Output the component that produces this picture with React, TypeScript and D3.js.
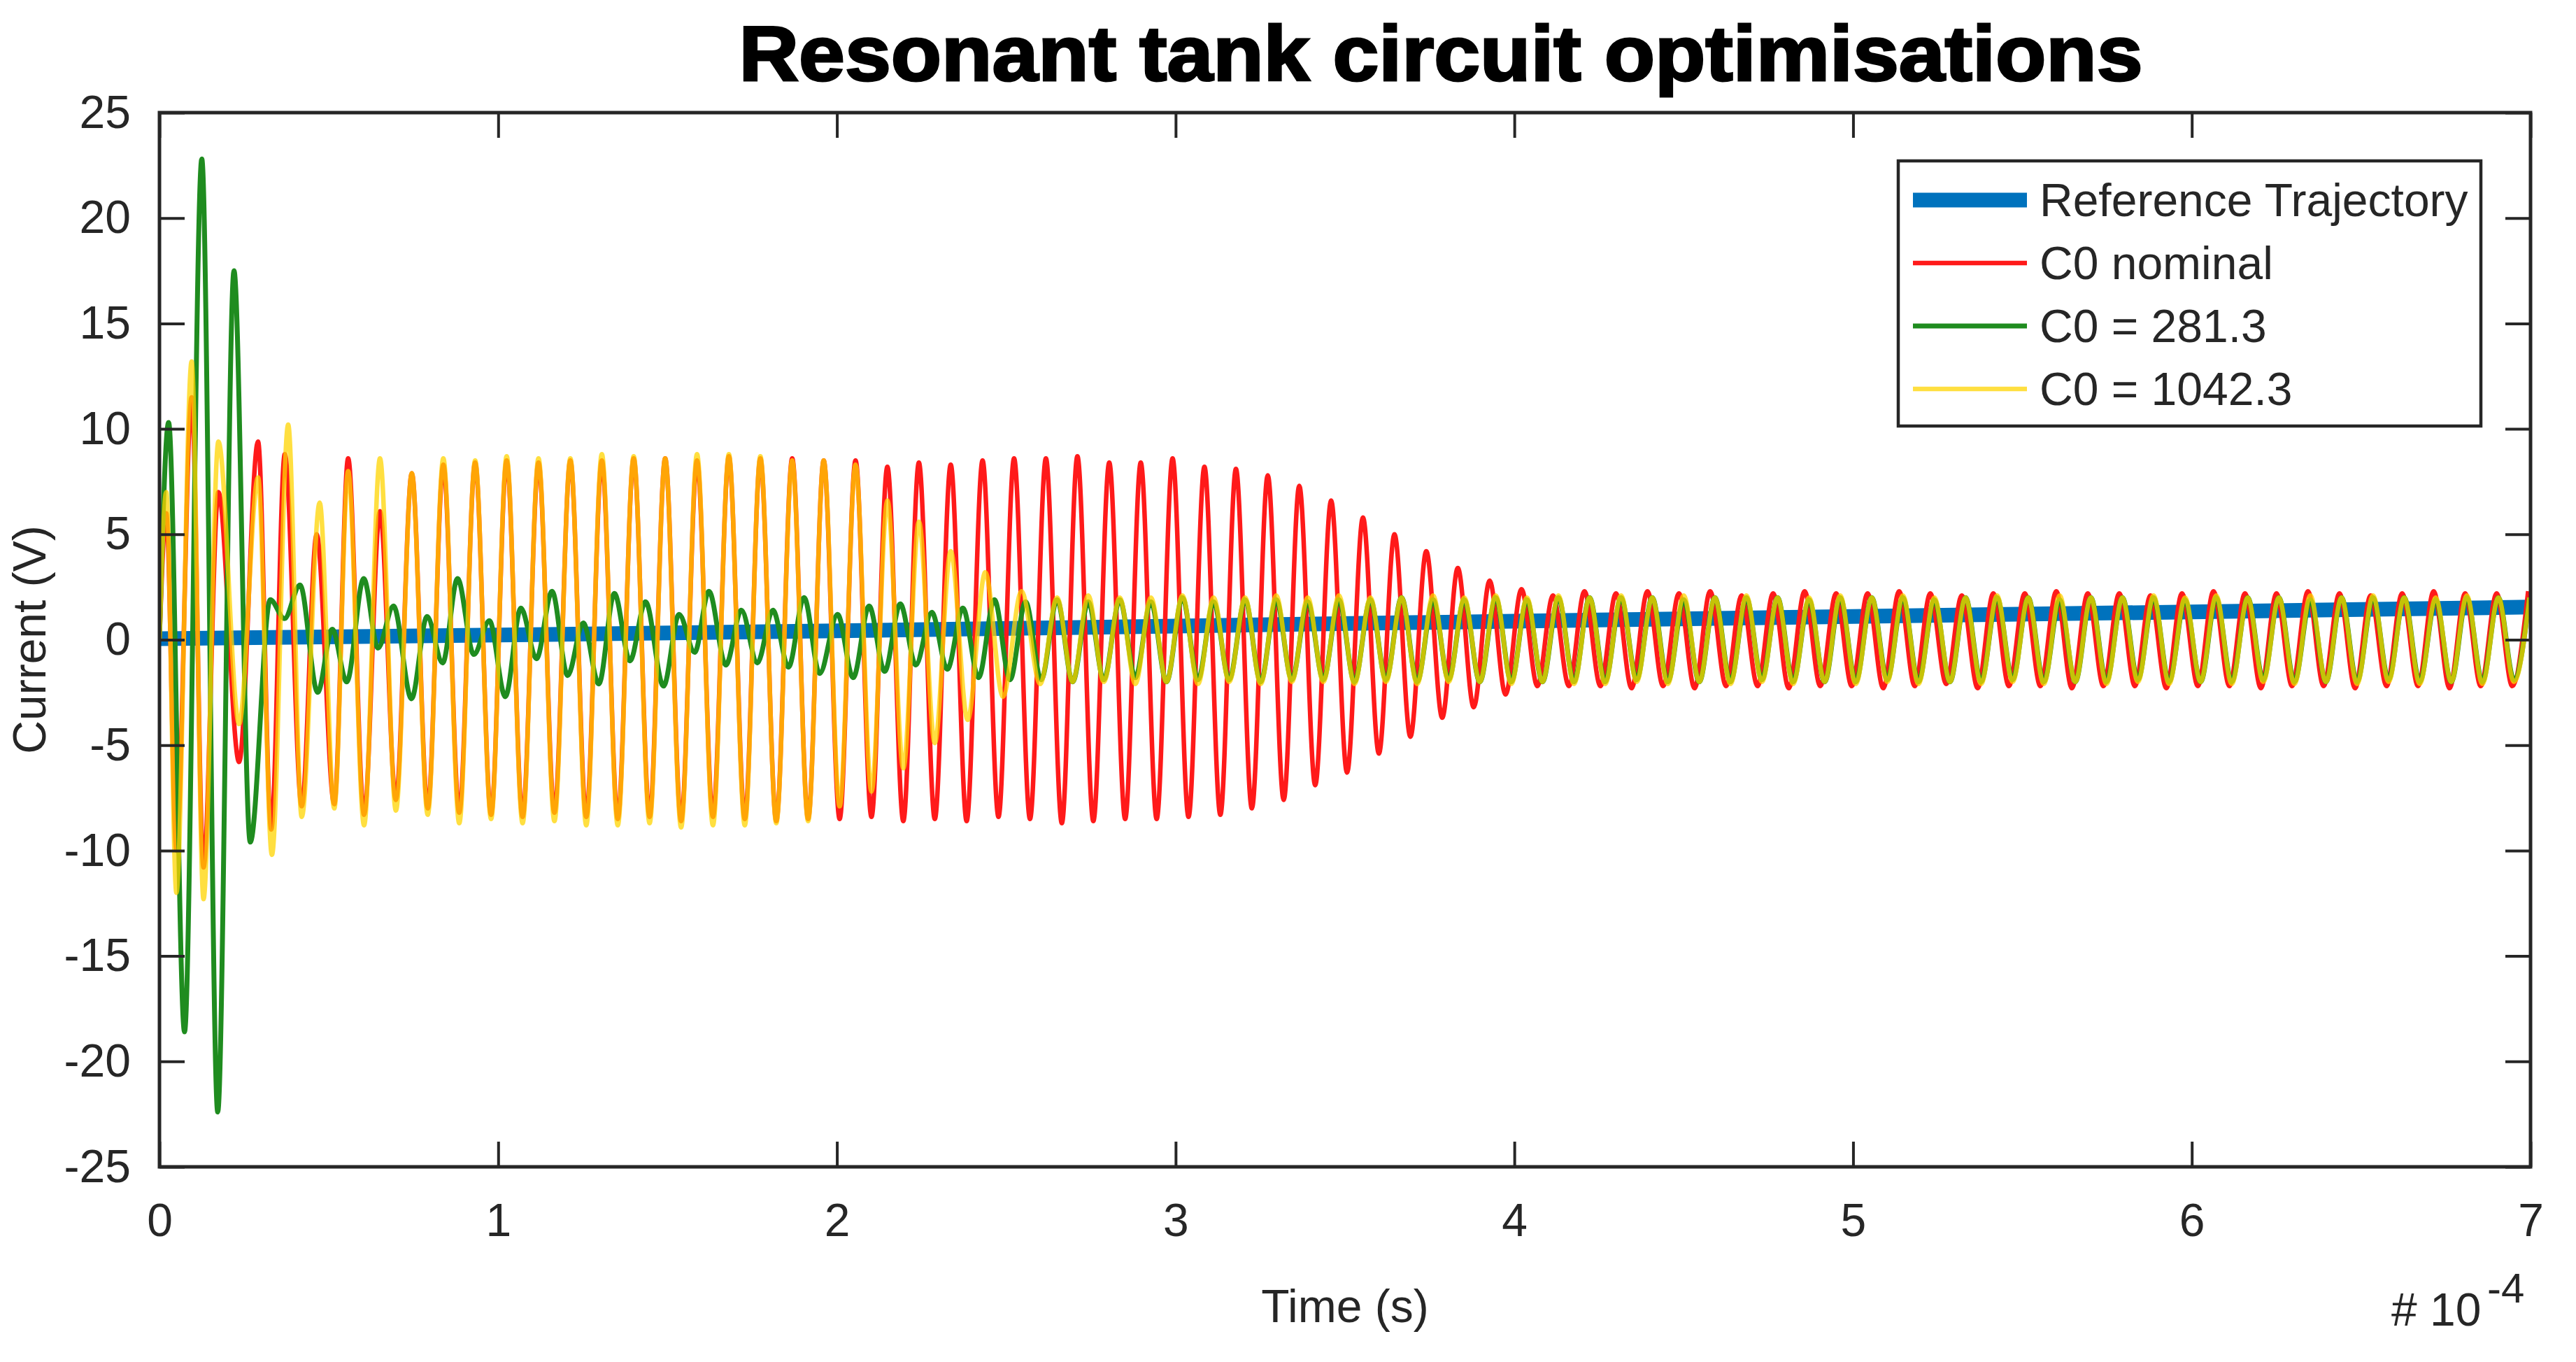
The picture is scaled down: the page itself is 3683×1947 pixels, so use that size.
import React, { useEffect, useRef } from 'react';
import * as d3 from 'd3';

type Pt = [number, number];

// time axis is in units of 1e-4 s
const timeTicks = [0, 1, 2, 3, 4, 5, 6, 7];
const currentTicks = [-25, -20, -15, -10, -5, 0, 5, 10, 15, 20, 25];

const legendLabels = ['Reference Trajectory', 'C0 nominal', 'C0 = 281.3', 'C0 = 1042.3'];

const referenceTrajectory: Pt[] = [
    [0, 0.05], [1, 0.22], [2, 0.42], [3, 0.65], [4, 0.88], [5, 1.1], [6, 1.32], [7, 1.55],
];

// swing extrema (time, current)
const c0Nominal: Pt[] = [
    [0, 0], [0.02, 6.0], [0.05, -10.0], [0.095, 11.5], [0.13, -10.8], [0.174, 7.0], [0.235, -5.8], [0.291, 9.4],
    [0.33, -9.0], [0.37, 8.8], [0.42, -7.9], [0.464, 5.0], [0.516, -7.8], [0.557, 8.6], [0.604, -8.3], [0.651, 6.1],
    [0.698, -7.6], [0.745, 7.9], [0.792, -8.0], [0.838, 8.3], [0.885, -8.2], [0.932, 8.4], [0.979, -8.3], [1.025, 8.5],
    [1.072, -8.4], [1.119, 8.4], [1.166, -8.2], [1.213, 8.5], [1.26, -8.4], [1.306, 8.5], [1.353, -8.5], [1.4, 8.6],
    [1.447, -8.4], [1.493, 8.6], [1.54, -8.6], [1.587, 8.5], [1.634, -8.4], [1.681, 8.7], [1.728, -8.5], [1.774, 8.6],
    [1.821, -8.6], [1.868, 8.6], [1.915, -8.5], [1.961, 8.5], [2.008, -8.5], [2.055, 8.5], [2.102, -8.4], [2.149, 8.2],
    [2.196, -8.6], [2.242, 8.4], [2.289, -8.5], [2.336, 8.3], [2.383, -8.6], [2.43, 8.5], [2.477, -8.4], [2.523, 8.6],
    [2.57, -8.5], [2.617, 8.6], [2.664, -8.7], [2.71, 8.7], [2.757, -8.6], [2.804, 8.4], [2.851, -8.5], [2.897, 8.4],
    [2.944, -8.5], [2.991, 8.6], [3.038, -8.4], [3.085, 8.2], [3.132, -8.3], [3.178, 8.1], [3.225, -8.0], [3.272, 7.8],
    [3.319, -7.6], [3.365, 7.3], [3.412, -6.9], [3.459, 6.6], [3.506, -6.3], [3.553, 5.8], [3.6, -5.4], [3.646, 5.0],
    [3.693, -4.6], [3.74, 4.2], [3.787, -3.7], [3.833, 3.4], [3.88, -3.2], [3.927, 2.8], [3.974, -2.6], [4.021, 2.4],
    [4.068, -2.2], [4.114, 2.1], [4.161, -2.2], [4.207, 2.3], [4.254, -2.2], [4.3, 2.2], [4.346, -2.3], [4.393, 2.3],
    [4.439, -2.2], [4.486, 2.2], [4.532, -2.3], [4.578, 2.3], [4.625, -2.2], [4.671, 2.1], [4.718, -2.2], [4.764, 2.2],
    [4.81, -2.3], [4.857, 2.3], [4.903, -2.2], [4.95, 2.2], [4.996, -2.2], [5.043, 2.2], [5.089, -2.3], [5.136, 2.3],
    [5.182, -2.2], [5.228, 2.2], [5.275, -2.1], [5.321, 2.1], [5.368, -2.3], [5.414, 2.2], [5.46, -2.2], [5.507, 2.2],
    [5.553, -2.2], [5.6, 2.3], [5.646, -2.3], [5.693, 2.2], [5.739, -2.2], [5.786, 2.2], [5.832, -2.2], [5.878, 2.1],
    [5.925, -2.3], [5.971, 2.2], [6.018, -2.2], [6.064, 2.3], [6.111, -2.2], [6.157, 2.2], [6.204, -2.3], [6.25, 2.2],
    [6.296, -2.2], [6.343, 2.3], [6.389, -2.2], [6.436, 2.2], [6.482, -2.3], [6.528, 2.1], [6.575, -2.2], [6.621, 2.2],
    [6.668, -2.2], [6.714, 2.3], [6.761, -2.3], [6.807, 2.2], [6.853, -2.2], [6.9, 2.2], [6.946, -2.2], [6.993, 2.3],
];

const c0Low: Pt[] = [
    [0, 0], [0.027, 10.3], [0.074, -18.6], [0.125, 22.8], [0.172, -22.4], [0.22, 17.5], [0.268, -9.6], [0.327, 1.9],
    [0.369, 1.0], [0.415, 2.6], [0.467, -2.5], [0.51, 0.5], [0.553, -2.0], [0.603, 2.9], [0.645, -0.4], [0.691, 1.6],
    [0.744, -2.8], [0.79, 1.1], [0.836, -1.1], [0.88, 2.9], [0.928, -0.7], [0.974, 0.9], [1.021, -2.7], [1.067, 1.5],
    [1.113, -0.9], [1.159, 2.3], [1.205, -1.7], [1.251, 0.8], [1.297, -2.1], [1.343, 2.2], [1.389, -1.0], [1.435, 1.8],
    [1.488, -2.2], [1.534, 1.2], [1.58, -0.6], [1.622, 2.3], [1.672, -1.2], [1.718, 1.4], [1.765, -1.1], [1.811, 1.4],
    [1.857, -1.3], [1.903, 2.0], [1.949, -1.6], [2.002, 1.2], [2.048, -1.8], [2.095, 1.6], [2.141, -1.5], [2.187, 1.7],
    [2.233, -1.2], [2.28, 1.3], [2.326, -1.4], [2.372, 1.5], [2.418, -1.8], [2.465, 1.9], [2.511, -1.9], [2.557, 1.8],
    [2.603, -1.9], [2.65, 1.9], [2.696, -2.0], [2.742, 1.8], [2.788, -1.9], [2.835, 1.9], [2.881, -1.8], [2.927, 1.8],
    [2.973, -2.0], [3.02, 2.0], [3.066, -1.9], [3.112, 1.8], [3.158, -1.9], [3.205, 1.9], [3.251, -2.0], [3.297, 1.9],
    [3.343, -1.9], [3.39, 1.8], [3.436, -1.9], [3.482, 1.9], [3.528, -2.0], [3.575, 1.9], [3.621, -1.9], [3.667, 2.0],
    [3.713, -2.0], [3.76, 1.9], [3.806, -1.9], [3.852, 1.9], [3.898, -2.0], [3.945, 2.0], [3.991, -2.0], [4.037, 1.9],
    [4.083, -2.0], [4.13, 2.0], [4.176, -2.0], [4.222, 2.0], [4.268, -2.0], [4.315, 2.0], [4.361, -1.9], [4.407, 2.0],
    [4.453, -2.0], [4.5, 1.9], [4.546, -2.0], [4.592, 2.0], [4.638, -2.0], [4.685, 2.0], [4.731, -1.9], [4.777, 2.0],
    [4.823, -2.0], [4.87, 1.9], [4.916, -2.0], [4.962, 2.0], [5.008, -2.0], [5.055, 2.0], [5.101, -1.9], [5.147, 2.0],
    [5.193, -2.0], [5.24, 1.9], [5.286, -2.0], [5.332, 2.0], [5.378, -2.0], [5.425, 2.0], [5.471, -1.9], [5.517, 2.0],
    [5.563, -2.0], [5.61, 1.9], [5.656, -2.0], [5.702, 2.0], [5.748, -2.0], [5.795, 2.0], [5.841, -1.9], [5.887, 2.0],
    [5.933, -2.0], [5.98, 1.9], [6.026, -2.0], [6.072, 2.0], [6.118, -2.0], [6.165, 2.0], [6.211, -1.9], [6.257, 2.0],
    [6.303, -2.0], [6.35, 1.9], [6.396, -2.0], [6.442, 2.0], [6.488, -2.0], [6.535, 2.0], [6.581, -1.9], [6.627, 2.0],
    [6.673, -2.0], [6.72, 1.9], [6.766, -2.0], [6.812, 2.0], [6.858, -2.0], [6.905, 2.0], [6.951, -1.9], [6.997, 2.0],
];

const c0High: Pt[] = [
    [0, 0], [0.02, 7.0], [0.05, -12.0], [0.095, 13.2], [0.13, -12.3], [0.174, 9.4], [0.235, -4.0], [0.291, 7.7],
    [0.332, -10.2], [0.38, 10.2], [0.42, -8.4], [0.473, 6.5], [0.516, -8.0], [0.557, 8.0], [0.604, -8.8], [0.651, 8.6],
    [0.698, -8.1], [0.745, 7.9], [0.792, -8.3], [0.838, 8.6], [0.885, -8.7], [0.932, 8.5], [0.979, -8.5], [1.025, 8.7],
    [1.072, -8.7], [1.119, 8.6], [1.166, -8.6], [1.213, 8.6], [1.26, -8.8], [1.306, 8.8], [1.353, -8.8], [1.4, 8.7],
    [1.447, -8.7], [1.493, 8.6], [1.54, -8.9], [1.587, 8.8], [1.634, -8.8], [1.681, 8.8], [1.728, -8.8], [1.774, 8.7],
    [1.821, -8.7], [1.868, 8.5], [1.915, -8.6], [1.961, 8.5], [2.008, -7.9], [2.055, 8.3], [2.102, -7.2], [2.149, 6.6],
    [2.196, -6.1], [2.242, 5.6], [2.289, -4.9], [2.336, 4.2], [2.386, -3.8], [2.438, 3.2], [2.49, -2.7], [2.545, 2.3],
    [2.6, -2.1], [2.65, 2.0], [2.696, -2.0], [2.742, 2.1], [2.788, -2.0], [2.835, 2.0], [2.881, -2.1], [2.927, 2.0],
    [2.973, -2.0], [3.02, 2.1], [3.066, -2.1], [3.112, 2.0], [3.158, -2.0], [3.205, 2.0], [3.251, -2.1], [3.297, 2.1],
    [3.343, -2.0], [3.39, 2.0], [3.436, -2.0], [3.482, 2.1], [3.528, -2.1], [3.575, 2.0], [3.621, -2.0], [3.667, 2.0],
    [3.713, -2.1], [3.76, 2.1], [3.806, -2.0], [3.852, 2.0], [3.898, -2.0], [3.945, 2.1], [3.991, -2.1], [4.037, 2.0],
    [4.083, -2.0], [4.13, 2.1], [4.176, -2.1], [4.222, 2.0], [4.268, -2.1], [4.315, 2.1], [4.361, -2.0], [4.407, 2.0],
    [4.453, -2.1], [4.5, 2.1], [4.546, -2.0], [4.592, 2.0], [4.638, -2.1], [4.685, 2.1], [4.731, -2.0], [4.777, 2.0],
    [4.823, -2.1], [4.87, 2.0], [4.916, -2.0], [4.962, 2.1], [5.008, -2.1], [5.055, 2.0], [5.101, -2.0], [5.147, 2.1],
    [5.193, -2.1], [5.24, 2.0], [5.286, -2.0], [5.332, 2.0], [5.378, -2.1], [5.425, 2.1], [5.471, -2.0], [5.517, 2.0],
    [5.563, -2.1], [5.61, 2.1], [5.656, -2.0], [5.702, 2.0], [5.748, -2.1], [5.795, 2.0], [5.841, -2.0], [5.887, 2.1],
    [5.933, -2.1], [5.98, 2.0], [6.026, -2.0], [6.072, 2.1], [6.118, -2.1], [6.165, 2.0], [6.211, -2.0], [6.257, 2.0],
    [6.303, -2.1], [6.35, 2.1], [6.396, -2.0], [6.442, 2.0], [6.488, -2.1], [6.535, 2.1], [6.581, -2.0], [6.627, 2.0],
    [6.673, -2.1], [6.72, 2.0], [6.766, -2.0], [6.812, 2.1], [6.858, -2.1], [6.905, 2.0], [6.951, -2.0], [6.997, 2.0],
];

const App: React.FC = () => {
    const svgRef = useRef<SVGSVGElement>(null);

    useEffect(() => {
        const width = 3683;
        const height = 1947;
        const margin = { top: 161, right: 65, bottom: 279, left: 228 };
        const font = '"Liberation Sans", Arial, Helvetica, sans-serif';
        const ink = '#262626';

        const svg = d3.select(svgRef.current);
        svg.selectAll('*').remove();
        svg.attr('width', width).attr('height', height).style('background', '#ffffff');

        const x = d3.scaleLinear().domain([0, 7]).range([margin.left, width - margin.right]);
        const y = d3.scaleLinear().domain([-25, 25]).range([height - margin.bottom, margin.top]);

        svg.append('defs').append('clipPath').attr('id', 'plot-clip')
            .append('rect')
            .attr('x', x(0)).attr('y', y(25))
            .attr('width', x(7) - x(0)).attr('height', y(-25) - y(25));

        const series = [
            { data: referenceTrajectory, color: '#0072bd', width: 21, opacity: 1 },
            { data: c0Nominal, color: '#ff1a1a', width: 6.5, opacity: 1 },
            { data: c0Low, color: '#1f8c1f', width: 7, opacity: 1 },
            { data: c0High, color: '#ffd400', width: 6.5, opacity: 0.75 },
        ];

        const line = d3.line<Pt>()
            .x(d => x(d[0]))
            .y(d => y(d[1]))
            .curve(d3.curveMonotoneX);

        const plot = svg.append('g').attr('clip-path', 'url(#plot-clip)');
        series.forEach(s => {
            plot.append('path')
                .datum(s.data)
                .attr('fill', 'none')
                .attr('stroke', s.color)
                .attr('stroke-width', s.width)
                .attr('stroke-opacity', s.opacity)
                .attr('stroke-linejoin', 'round')
                .attr('d', line);
        });

        // Axes, ticks pointing inward on all four sides
        const styleAxis = (g: d3.Selection<SVGGElement, unknown, null, undefined>) => {
            g.select('.domain').remove();
            g.selectAll('line').attr('stroke', ink).attr('stroke-width', 4);
            g.selectAll('text').attr('fill', ink).style('font-size', '66px').style('font-family', font);
        };

        svg.append('g')
            .attr('transform', `translate(0,${y(-25)})`)
            .call(d3.axisBottom(x).tickValues(timeTicks).tickSize(-36).tickPadding(52).tickFormat(d => String(d)))
            .call(styleAxis);

        svg.append('g')
            .attr('transform', `translate(0,${y(25)})`)
            .call(d3.axisTop(x).tickValues(timeTicks).tickSize(-36).tickFormat(() => ''))
            .call(styleAxis);

        svg.append('g')
            .attr('transform', `translate(${x(0)},0)`)
            .call(d3.axisLeft(y).tickValues(currentTicks).tickSize(-36).tickPadding(41).tickFormat(d => String(d)))
            .call(styleAxis);

        svg.append('g')
            .attr('transform', `translate(${x(7)},0)`)
            .call(d3.axisRight(y).tickValues(currentTicks).tickSize(-36).tickFormat(() => ''))
            .call(styleAxis);

        svg.append('rect')
            .attr('x', x(0)).attr('y', y(25))
            .attr('width', x(7) - x(0)).attr('height', y(-25) - y(25))
            .attr('fill', 'none').attr('stroke', ink).attr('stroke-width', 5);

        // Title and axis labels
        svg.append('text')
            .attr('x', 2060).attr('y', 115)
            .attr('text-anchor', 'middle')
            .attr('textLength', 2007).attr('lengthAdjust', 'spacingAndGlyphs')
            .style('font-family', font).style('font-size', '112px').style('font-weight', 'bold')
            .attr('fill', '#000').attr('stroke', '#000').attr('stroke-width', 3)
            .text('Resonant tank circuit optimisations');

        svg.append('text')
            .attr('x', (x(0) + x(7)) / 2).attr('y', 1890)
            .attr('text-anchor', 'middle')
            .style('font-family', font).style('font-size', '66px')
            .attr('fill', ink)
            .text('Time (s)');

        svg.append('text')
            .attr('x', 3419).attr('y', 1895)
            .style('font-family', font).style('font-size', '66px')
            .attr('fill', ink)
            .text('# 10');
        svg.append('text')
            .attr('x', 3556).attr('y', 1862)
            .style('font-family', font).style('font-size', '60px')
            .attr('fill', ink)
            .text('-4');

        svg.append('text')
            .attr('transform', `translate(65,${(y(25) + y(-25)) / 2}) rotate(-90)`)
            .attr('text-anchor', 'middle')
            .style('font-family', font).style('font-size', '66px')
            .attr('fill', ink)
            .text('Current (V)');

        // Legend
        const legend = svg.append('g');
        legend.append('rect')
            .attr('x', 2714).attr('y', 230).attr('width', 833).attr('height', 379)
            .attr('fill', '#ffffff').attr('stroke', ink).attr('stroke-width', 4.5);

        const rowY = d3.scalePoint<string>().domain(legendLabels).range([286, 556]);
        legendLabels.forEach((label, i) => {
            const s = series[i];
            const yy = rowY(label) as number;
            legend.append('line')
                .attr('x1', 2735).attr('x2', 2898).attr('y1', yy).attr('y2', yy)
                .attr('stroke', s.color).attr('stroke-width', s.width)
                .attr('stroke-opacity', s.opacity);
            legend.append('text')
                .attr('x', 2916).attr('y', yy).attr('dy', '0.35em')
                .style('font-family', font).style('font-size', '66px')
                .attr('fill', ink)
                .text(label);
        });
    }, []);

    return <svg ref={svgRef} style={{ position: 'absolute', left: 0, top: 0 }}></svg>;
};

export default App;
